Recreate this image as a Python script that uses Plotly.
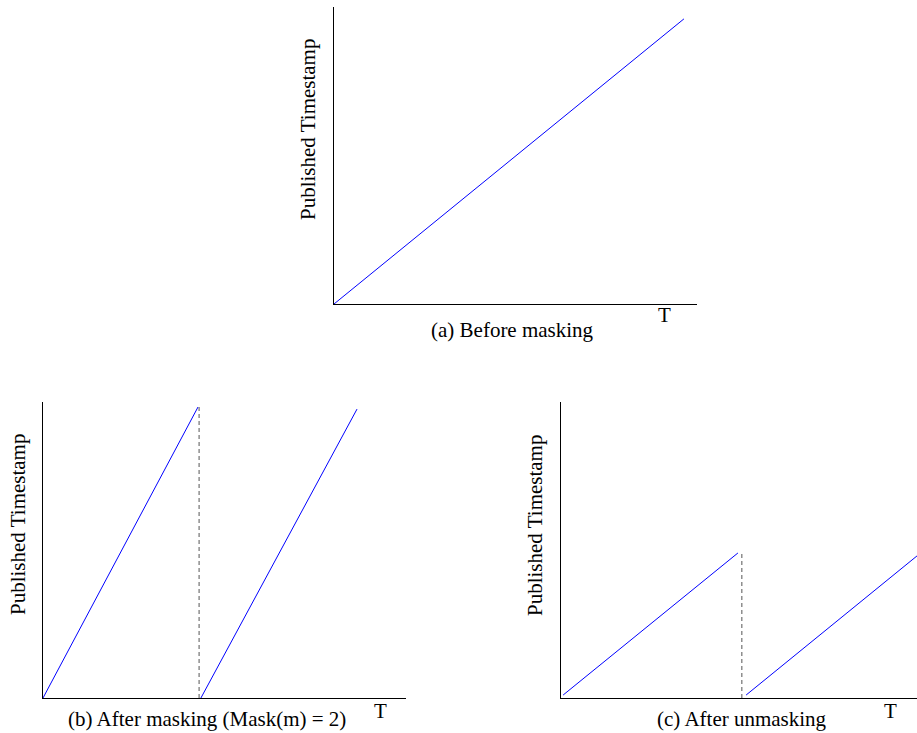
import plotly.graph_objects as go

# ---- data (axis-fraction units) ----
a_x = [0.0, 0.964]
a_y = [0.0, 0.96]

b_seg1_x = [0.0, 0.427]
b_seg1_y = [0.0, 0.983]
b_seg2_x = [0.435, 0.865]
b_seg2_y = [0.0, 0.976]
b_dash_x = [0.43, 0.43]
b_dash_y = [0.0, 0.983]

c_seg1_x = [0.006, 0.497]
c_seg1_y = [0.01, 0.49]
c_seg2_x = [0.52, 1.0]
c_seg2_y = [0.01, 0.48]
c_dash_x = [0.508, 0.508]
c_dash_y = [0.0, 0.49]

ylabel = "Published Timestamp"
xlabel = "T"
captions = ["(a) Before masking", "(b) After masking (Mask(m) = 2)", "(c) After unmasking"]

W, H = 917, 733
BLUE = "#0000ff"
GRAY = "#555555"
FONT = "Liberation Serif"
FS = 21

fig = go.Figure()

def line(x, y, xa, ya, color=BLUE, dash=None):
    fig.add_trace(go.Scatter(x=x, y=y, mode="lines", xaxis=xa, yaxis=ya,
                             line=dict(color=color, width=1, dash=dash),
                             showlegend=False, hoverinfo="skip"))

line(a_x, a_y, "x", "y")
line(b_seg1_x, b_seg1_y, "x2", "y2")
line(b_dash_x, b_dash_y, "x2", "y2", GRAY, "4px,3px")
line(b_seg2_x, b_seg2_y, "x2", "y2")
line(c_seg1_x, c_seg1_y, "x3", "y3")
line(c_dash_x, c_dash_y, "x3", "y3", GRAY, "4px,3px")
line(c_seg2_x, c_seg2_y, "x3", "y3")

def ax(domain, anchor):
    return dict(domain=domain, anchor=anchor, range=[0, 1], showgrid=False,
                zeroline=False, showticklabels=False, ticks="", showline=True,
                linecolor="#000000", linewidth=1, fixedrange=True)

def px_x(p):
    return p / W

def px_y(p):
    return 1 - p / H

fig.update_layout(
    width=W, height=H,
    margin=dict(l=0, r=0, t=0, b=0),
    paper_bgcolor="white", plot_bgcolor="white",
    font=dict(family=FONT, size=FS, color="black"),
    xaxis=ax([px_x(334), px_x(697)], "y"),
    yaxis=ax([px_y(304), px_y(7)], "x"),
    xaxis2=ax([px_x(43), px_x(406)], "y2"),
    yaxis2=ax([px_y(698), px_y(402)], "x2"),
    xaxis3=ax([px_x(561), 1.0], "y3"),
    yaxis3=ax([px_y(698), px_y(402)], "x3"),
)

def note(text, x, y, angle=0):
    fig.add_annotation(text=text, x=px_x(x), y=px_y(y), xref="paper", yref="paper",
                       showarrow=False, textangle=angle, xanchor="center", yanchor="middle",
                       font=dict(family=FONT, size=FS, color="black"))

note(ylabel, 308, 130, -90)
note(xlabel, 664, 315)
note(captions[0], 512, 330)

note(ylabel, 18, 525, -90)
note(xlabel, 380, 711)
note(captions[1], 207, 719)

note(ylabel, 535, 526, -90)
note(xlabel, 890, 711)
note(captions[2], 742, 719)

fig.write_html("out.html",
               config={"displayModeBar": False, "staticPlot": True},
               post_script="document.body.style.margin='0';document.body.style.overflow='hidden';")
